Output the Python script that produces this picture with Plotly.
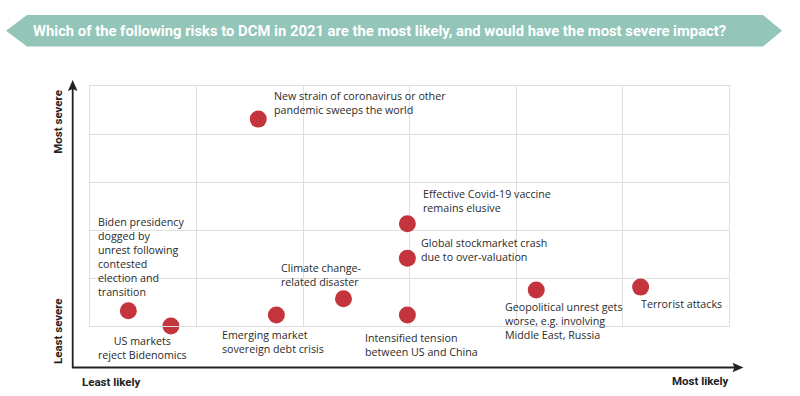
import plotly.graph_objects as go

# ---- data ----
risks = [
    "New strain of coronavirus or other<br>pandemic sweeps the world",
    "Biden presidency<br>dogged by<br>unrest following<br>contested<br>election and<br>transition",
    "US markets<br>reject Bidenomics",
    "Emerging market<br>sovereign debt crisis",
    "Climate change-<br>related disaster",
    "Effective Covid-19 vaccine<br>remains elusive",
    "Global stockmarket crash<br>due to over-valuation",
    "Intensified tension<br>between US and China",
    "Geopolitical unrest gets<br>worse, e.g. involving<br>Middle East, Russia",
    "Terrorist attacks",
]
likelihood = [1.58, 0.36, 0.76, 1.75, 2.38, 2.98, 2.98, 2.98, 4.19, 5.17]
severity = [4.31, 0.32, 0.00, 0.23, 0.57, 2.13, 1.41, 0.23, 0.75, 0.81]

title_text = "Which of the following risks to DCM in 2021 are the most likely, and would have the most severe impact?"

# ---- label placement (pixel offsets from each point) ----
label_style = [
    dict(xshift=14, yshift=32, xanchor="left", align="left"),
    dict(xshift=-32.4, yshift=97.5, xanchor="left", align="left"),
    dict(xshift=-28.3, yshift=-5.5, xanchor="center", align="center"),
    dict(xshift=-56.6, yshift=-11.5, xanchor="left", align="left"),
    dict(xshift=-64.4, yshift=39.9, xanchor="left", align="left"),
    dict(xshift=13.6, yshift=38.9, xanchor="left", align="left"),
    dict(xshift=11.6, yshift=24.5, xanchor="left", align="left"),
    dict(xshift=-44.4, yshift=-14.2, xanchor="left", align="left"),
    dict(xshift=-33, yshift=-7.8, xanchor="left", align="left"),
    dict(xshift=-1.3, yshift=-7.5, xanchor="left", align="left"),
]

W, H = 800, 396
L, R, T, B = 90, 729, 86, 326  # plot area in pixels


def px(x):
    return (x - L) / (R - L)


def py(y):
    return (B - y) / (B - T)


FONT = "Open Sans"
TFONT = "Roboto"
TXT = "#2b2b2b"
GRID = "#dedede"

fig = go.Figure()
fig.add_trace(go.Scatter(
    x=likelihood, y=severity, mode="markers",
    marker=dict(size=17, color="#c3343c", line=dict(width=0)),
    cliponaxis=False, hoverinfo="skip", showlegend=False,
))

annotations = []
for t, xv, yv, st in zip(risks, likelihood, severity, label_style):
    annotations.append(dict(
        text=t, x=xv, y=yv, xref="x", yref="y", showarrow=False,
        yanchor="top", font=dict(family=FONT, size=10.7, color=TXT), **st,
    ))

# axis titles
annotations += [
    dict(text="<b>Most severe</b>", x=px(58), y=py(121.7), xref="paper", yref="paper",
         showarrow=False, textangle=-90, xanchor="center", yanchor="middle",
         font=dict(family=TFONT, size=11.5, color="#222")),
    dict(text="<b>Least severe</b>", x=px(58), y=py(331), xref="paper", yref="paper",
         showarrow=False, textangle=-90, xanchor="center", yanchor="middle",
         font=dict(family=TFONT, size=11.5, color="#222")),
    dict(text="<b>Least likely</b>", x=px(80), y=py(381.5), xref="paper", yref="paper",
         showarrow=False, xanchor="left", yanchor="middle",
         font=dict(family=TFONT, size=11.5, color="#222")),
    dict(text="<b>Most likely</b>", x=px(731), y=py(380.7), xref="paper", yref="paper",
         showarrow=False, xanchor="right", yanchor="middle",
         font=dict(family=TFONT, size=11.5, color="#222")),
    dict(text="<b>" + title_text + "</b>", x=px(30.5), y=py(30.5), xref="paper", yref="paper",
         showarrow=False, xanchor="left", yanchor="middle",
         font=dict(family=TFONT, size=14.8, color="white")),
]

# shapes: banner + axis arrows
def path(points):
    return "M " + " L ".join(f"{px(a)},{py(b)}" for a, b in points) + " Z"

AX = "#222222"
shapes = [
    dict(type="path", xref="paper", yref="paper", layer="below",
         path=path([(6, 30.7), (27, 15), (763, 15), (782, 30.7), (763, 46.5), (27, 46.5)]),
         fillcolor="#93c5b8", line=dict(width=0)),
    # y axis arrow
    dict(type="line", xref="paper", yref="paper", x0=px(72.7), x1=px(72.7),
         y0=py(367.5), y1=py(88), line=dict(color=AX, width=1.8)),
    dict(type="path", xref="paper", yref="paper",
         path=path([(72.7, 80), (77.5, 91), (72.7, 89), (67.9, 91)]),
         fillcolor=AX, line=dict(width=0)),
    # x axis arrow
    dict(type="line", xref="paper", yref="paper", x0=px(72), x1=px(735),
         y0=py(367.5), y1=py(367.5), line=dict(color=AX, width=1.8)),
    dict(type="path", xref="paper", yref="paper",
         path=path([(743.5, 367.5), (732.5, 362.7), (734.5, 367.5), (732.5, 372.3)]),
         fillcolor=AX, line=dict(width=0)),
]

axis_common = dict(showticklabels=False, ticks="", zeroline=False, showgrid=True,
                   gridcolor=GRID, gridwidth=1.3, showline=True, mirror=True,
                   linecolor=GRID, linewidth=1.3, tick0=0, dtick=1, fixedrange=True)

fig.update_layout(
    width=W, height=H,
    margin=dict(l=L, r=W - R, t=T, b=H - B),
    paper_bgcolor="white", plot_bgcolor="white",
    xaxis=dict(range=[0, 6], **axis_common),
    yaxis=dict(range=[0, 5], **axis_common),
    annotations=annotations, shapes=shapes,
    showlegend=False,
)

fig.write_html("out.html", config={"displayModeBar": False})
